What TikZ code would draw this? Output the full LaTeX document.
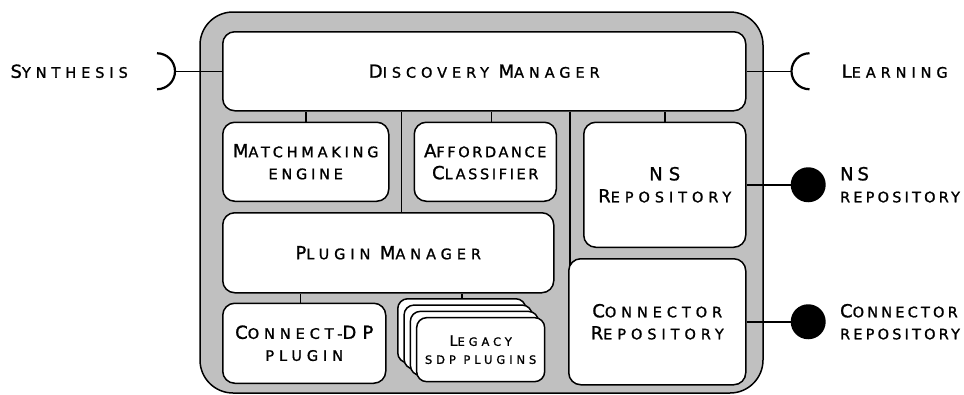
\documentclass[tikz,border=0pt]{standalone}
\usepackage{fontspec}
\usetikzlibrary{positioning,backgrounds,calc}
\newfontfamily\diafont[LetterSpace=34,FakeBold=1.2]{DejaVu Sans}
\newcommand\bc[1]{{\fontsize{18}{22}\selectfont#1}}
\newcommand\lbc[1]{{\fontsize{14.5}{18}\selectfont#1}}
\definecolor{framegray}{RGB}{192,192,192}

\begin{document}
\begin{tikzpicture}[x=1pt, y=1pt,
	comp/.style={draw, line width=1.5pt, fill=white, rounded corners=12pt, align=center, inner sep=0pt, font=\diafont\fontsize{14.5}{22}\selectfont},
	card/.style={comp, rounded corners=10pt, minimum width=128pt, minimum height=64pt, anchor=north west, font=\diafont\fontsize{11.5}{18}\selectfont},
	squeeze/.style={font=\diafont\addfontfeatures{LetterSpace=#1}\fontsize{14.5}{22}\selectfont},
	link/.style={line width=1.5pt},
	socket/.style={line width=2.2pt},
	ball/.style={circle, fill=black, minimum size=35pt, inner sep=0pt},
	lab/.style={inner sep=0pt, align=left, font=\diafont\fontsize{14.5}{22}\selectfont}]
	  \useasboundingbox (0,0) rectangle (964,-394);
	  \node[comp, minimum width=523pt, minimum height=79pt, anchor=north west] (dm) at (222,-31) {\bc{D}ISCOVERY \bc{M}ANAGER};
	  \node[comp, squeeze=26, minimum width=166pt, minimum height=79pt, below right=10pt and 0pt of dm.south west] (mm) {\bc{M}ATCHMAKING\\ENGINE};
	  \node[comp, squeeze=18, minimum width=142pt, minimum height=79pt, right=24pt of mm] (ac) {\bc{A}FFORDANCE\\\bc{C}LASSIFIER};
	  \node[comp, minimum width=162pt, minimum height=125pt, below left=10pt and 0pt of dm.south east] (ns) {\bc{NS}\\\bc{R}EPOSITORY};
	  \node[comp, minimum width=331pt, minimum height=80pt, below right=10pt and 0pt of mm.south west] (pm) {\bc{P}LUGIN \bc{M}ANAGER};
	  \node[comp, minimum width=163pt, minimum height=80pt, below right=9pt and 0pt of pm.south west] (cdp) {\bc{C}ONNECT-\bc{DP}\\PLUGIN};
	  \node[comp, minimum width=177pt, minimum height=126pt, below left=10pt and 0pt of ns.south east] (cr) {\bc{C}ONNECTOR\\\bc{R}EPOSITORY};
	  \foreach \k in {0,1,2}
	    \node[card] (leg\k) at ({397+6.3*\k},{-298-6.3*\k}) {};
	  \node[card] (leg3) at (415.9,-316.9) {\lbc{L}EGACY\\SDP PLUGINS};

	  \coordinate (div1) at ($(mm.east)!0.5!(ac.west)$);
	  \coordinate (div2) at ($(ac.east)!0.5!(ns.west)$);
	  \begin{scope}[on background layer]
	    \draw[line width=1.5pt, fill=framegray, rounded corners=33pt] (200,-12) rectangle (763,-393);
	    \draw[link] (div1 |- dm.south) -- (div1 |- pm.north);
	    \draw[link] (div2 |- dm.south) -- (div2 |- cr.center);
	  \end{scope}

	  \draw[link] (mm.north) -- (mm.north |- dm.south);
	  \draw[link] ([xshift=6pt]ac.north) -- ([xshift=6pt]ac.north |- dm.south);
	  \draw[link] (ns.north) -- (ns.north |- dm.south);
	  \draw[link] ([xshift=-4pt]cdp.north) -- ([xshift=-4pt]cdp.north |- pm.south);
	  \draw[link] (leg0.north) -- (leg0.north |- pm.south);

	  \coordinate[left=47pt of dm.west] (syn);
	  \coordinate[right=45pt of dm.east] (lrn);
	  \draw[link] (dm.west) -- (syn);
	  \draw[link] (dm.east) -- (lrn);
	  \draw[socket] (syn) arc[start angle=0, end angle=90, radius=18pt] (syn) arc[start angle=0, end angle=-90, radius=18pt];
	  \draw[socket] (lrn) arc[start angle=180, end angle=90, radius=18pt] (lrn) arc[start angle=180, end angle=270, radius=18pt];
	  \node[lab, left=47pt of syn] (synlab) {\bc{S}YNTHESIS};
	  \node[lab, right=50pt of lrn] (lrnlab) {\bc{L}EARNING};

	  \node[ball, right=44pt of ns.east] (nsball) {};
	  \node[ball, right=44pt of cr.east] (crball) {};
	  \draw[link] (ns.east) -- (nsball);
	  \draw[link] (cr.east) -- (crball);
	  \node[lab, squeeze=22, right=14pt of nsball] (nslab) {\bc{NS}\\REPOSITORY};
	  \node[lab, squeeze=22, right=14pt of crball] (crlab) {\bc{C}ONNECTOR\\REPOSITORY};
\end{tikzpicture}
\end{document}
